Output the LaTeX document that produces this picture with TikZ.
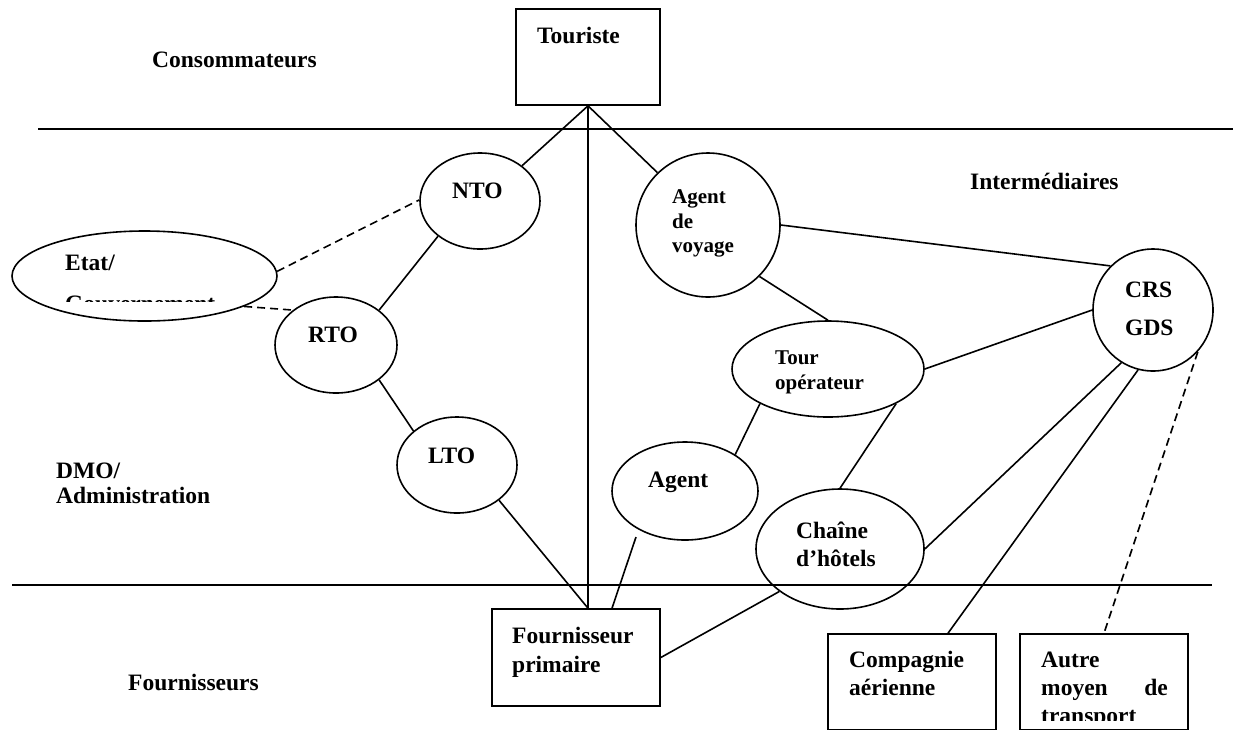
\documentclass[tikz,border=0pt]{standalone}
\usepackage{fontspec}
\setmainfont{Liberation Serif}
\usetikzlibrary{shapes.geometric,calc}
\begin{document}
\begin{tikzpicture}[x=1pt,y=-1pt,
  ln/.style={line width=1.6pt},
  dsh/.style={line width=1.6pt, dash pattern=on 8pt off 5pt},
  ell/.style={draw, ellipse, line width=1.6pt, inner sep=0pt},
  box/.style={draw, rectangle, line width=1.6pt, inner sep=0pt},
  txt/.style={anchor=base west, inner sep=0pt, font=\fontsize{23.5}{28}\selectfont\bfseries},
  stxt/.style={anchor=base west, inner sep=0pt, font=\fontsize{21}{25}\selectfont\bfseries}]
\useasboundingbox (0,0) rectangle (1233,729);

% separator lines
\coordinate (l1a) at (38,129);  \coordinate (l1b) at (1233,129);
\coordinate (l2a) at (12,585);  \coordinate (l2b) at (1212,585);
\draw[ln] (l1a) -- (l1b);
\draw[ln] (l2a) -- (l2b);

% shapes
\node[box, minimum width=144pt, minimum height=96pt] (touriste) at (588,57) {};
\node[box, minimum width=168pt, minimum height=97pt] (fourn) at (576,657.5) {};
\node[box, minimum width=168pt, minimum height=95.5pt] (comp) at (912,681.75) {};
\node[box, minimum width=168pt, minimum height=95.5pt] (autre) at (1104,681.75) {};

\node[ell, minimum width=120pt, minimum height=96pt] (nto) at (480,201) {};
\node[ell, minimum width=265pt, minimum height=90pt] (etat) at (144.5,276) {};
\node[ell, minimum width=122pt, minimum height=96pt] (rto) at (336,345) {};
\node[ell, minimum width=120pt, minimum height=96pt] (lto) at (457,465) {};
\node[ell, minimum width=144pt, minimum height=144pt] (av) at (708,225) {};
\node[ell, minimum width=192pt, minimum height=96pt] (tourop) at (828,369) {};
\node[ell, minimum width=146pt, minimum height=98pt] (agent) at (685,491) {};
\node[ell, minimum width=168pt, minimum height=120pt] (chaine) at (840,549) {};
\node[ell, minimum width=120pt, minimum height=122pt] (crs) at (1153,310) {};

% connectors
\draw[ln] (touriste.south) -- (nto.40);
\draw[ln] (touriste.south) -- (touriste.south |- fourn.north);
\draw[ln] (touriste.south) -- (av.134);
\draw[ln] (nto.220) -- (rto.39);
\draw[dsh] (etat.2) -- (nto.179);
\draw[dsh] (etat.-17) -- (rto.141);
\draw[ln] (rto.321) -- (lto.142);
\draw[ln] (lto.-40) -- (touriste.south |- fourn.north);
\draw[ln] ($(agent.center)+(-49,46)$) -- ([xshift=36pt]fourn.north);
\draw[ln] (av.east) -- (crs.134);
\draw[ln] (av.-45) -- (tourop.north);
\draw[ln] (tourop.east) -- (crs.west);
\draw[ln] (tourop.207.6) -- (agent.36);
\draw[ln] (tourop.-27.2) -- (chaine.north);
\draw[ln] (chaine.east) -- (crs.239);
\draw[ln] (chaine.215.6) -- (fourn.east);
\draw[ln] (crs.256) -- ([xshift=36pt]comp.north);
\draw[dsh] (crs.-43) -- (autre.north);

% texts
\node[txt] (tTour) at (537,43) {Touriste};
\node[txt] (tCons) at (152,67) {Consommateurs};
\node[txt] (tInter) at (970,189) {Intermédiaires};
\node[txt] (tNTO) at (452,198) {NTO};
\node[txt] (tRTO) at (308,342) {RTO};
\node[txt] (tLTO) at (428,463) {LTO};
\node[txt] (tEtat) at (65,270) {Etat/};
\begin{scope}
  \clip (12,280) rectangle (277,301);
  \node[txt] (tGouv) at (65,311) {Gouvernement};
\end{scope}
\node[stxt] (tAv1) at (672,203) {Agent};
\node[stxt] (tAv2) at (672,228) {de};
\node[stxt] (tAv3) at (672,252) {voyage};
\node[txt] (tCRS) at (1125,297) {CRS};
\node[txt] (tGDS) at (1125,335) {GDS};
\node[stxt] (tTo1) at (775,364) {Tour};
\node[stxt] (tTo2) at (775,389) {opérateur};
\node[txt] (tAgent) at (648,487) {Agent};
\node[txt] (tCh1) at (796,538) {Chaîne};
\node[txt] (tCh2) at (796,566) {d’hôtels};
\node[txt] (tDMO1) at (56,478) {DMO/};
\node[txt] (tDMO2) at (56,503) {Administration};
\node[txt] (tFours) at (128,690) {Fournisseurs};
\node[txt] (tFp1) at (512,643) {Fournisseur};
\node[txt] (tFp2) at (512,672) {primaire};
\node[txt] (tCa1) at (849,667) {Compagnie};
\node[txt] (tCa2) at (849,695) {aérienne};
\node[txt] (tAu1) at (1041,667) {Autre};
\node[txt] (tAu2) at (1041,695) {moyen};
\node[txt, anchor=base east] (tAu3) at (1168,695) {de};
\begin{scope}
  \clip (1020,700) rectangle (1188,720);
  \node[txt] (tAu4) at (1041,723) {transport};
\end{scope}
\end{tikzpicture}
\end{document}
